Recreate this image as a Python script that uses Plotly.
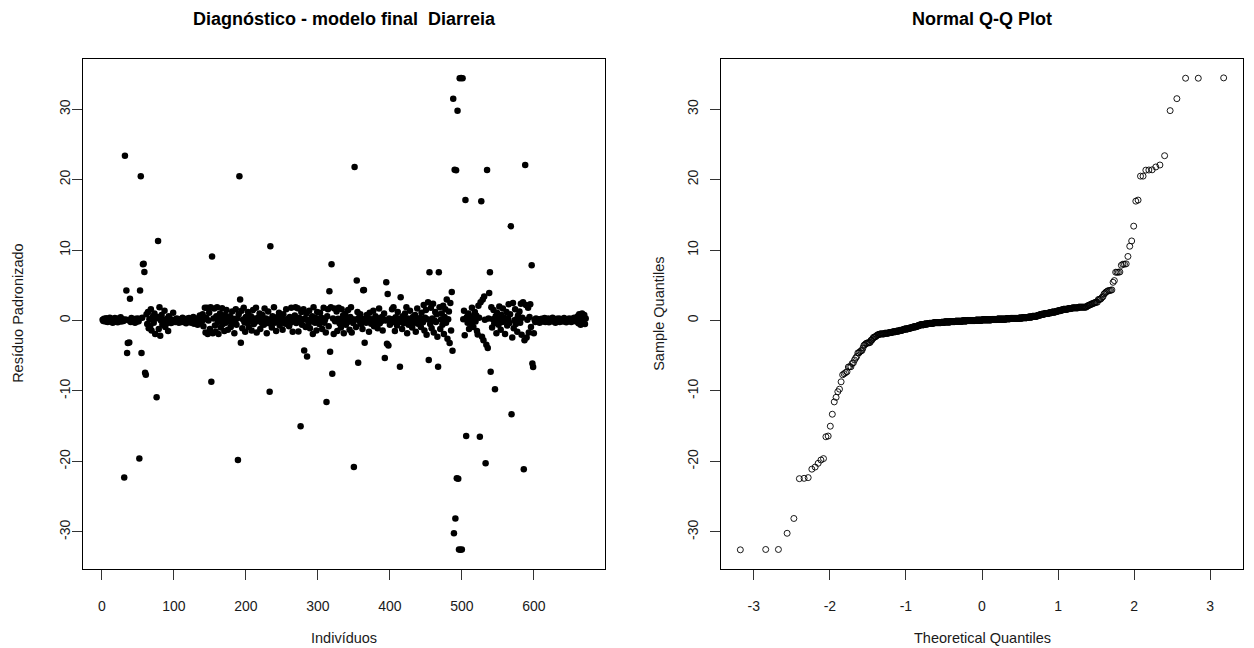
import numpy as np
import plotly.graph_objects as go
from statistics import NormalDist

# Standardized residuals by individual (index 1..672)
res_001_100 = [0.12, -0.08, 0.25, 0.05, -0.15, 0.31, 0.02, -0.21, 0.18, -0.05,
               0.40, -0.12, 0.08, 0.22, -0.30, 0.10, -0.02, 0.35, -0.18, 0.06,
               0.15, -0.25, 0.28, -0.10, 0.03, 0.45, -0.14, 0.11, 0.20, -0.06,
               -22.3, 23.4, 0.15, 4.25, -4.6, -3.2, 0.05, -3.1, 3.1, -0.2,
               0.35, -0.1, 0.2, -0.05, 0.1, -0.3, 0.25, 0.0, -0.15, 0.3,
               -0.1, -19.6, 4.25, 20.5, -4.6, 0.4, 8.0, 8.05, 6.9, -7.4,
               -7.7, 0.9, -0.5, 1.2, -1.1, 0.2, -0.8, 1.6, -1.4, 0.1,
               0.6, -0.3, 1.0, -1.9, 0.3, -10.9, 0.5, 11.3, -1.2, 1.9,
               -2.15, 0.0, 0.8, -0.6, 0.15, -0.2, 1.4, -0.9, 0.05, -0.4,
               0.3, -1.5, 0.6, -0.1, 0.2, -0.35, 0.1, -0.25, 1.1, -0.05]
res_101_200 = [0.1, -0.2, 0.05, 0.3, -0.1, 0.0, -0.3, 0.2, -0.05, 0.15,
               -0.2, 0.4, -0.1, 0.05, -0.25, 0.1, -0.4, 0.25, 0.0, -0.15,
               0.35, -0.05, 0.1, -0.3, 0.2, -0.1, 0.5, -0.45, 0.05, -0.2,
               0.3, 0.0, -0.6, 0.15, -0.1, 0.7, -0.35, 0.1, -0.05, 0.9,
               -0.8, 0.2, 1.8, -1.7, 0.4, 1.8, -1.9, 0.0, 1.1, -1.2,
               1.9, -8.7, 9.1, -1.8, 0.3, 1.7, -0.7, -1.6, 0.6, 1.9,
               -0.2, -1.9, 0.1, 1.0, -1.0, 0.35, 1.75, -0.5, 0.2, -1.5,
               0.8, -0.3, 1.5, 0.0, -1.3, 0.45, -0.15, 0.6, -0.9, 0.1,
               1.3, -0.4, 0.25, -1.8, 0.05, 1.6, -0.6, 0.3, -19.8, 0.9,
               20.5, 2.97, -3.15, 1.4, -1.1, 0.15, 1.8, -0.25, -1.6, 0.5]
res_201_300 = [-0.3, 0.1, 1.2, -0.9, 0.2, -0.1, 0.6, -1.4, 0.0, 1.5,
               -0.5, 0.3, -0.2, 1.8, -1.7, 0.1, 0.4, -0.05, 1.0, -1.2,
               0.25, -0.35, 0.8, 0.05, -0.6, 1.7, -0.15, 0.3, -1.8, 0.1,
               1.3, -0.4, -10.1, 10.55, 0.2, -1.0, 0.6, -0.1, 1.9, -0.3,
               0.15, -1.5, 0.45, 0.0, -0.2, 1.1, -0.7, 0.35, -0.05, 0.2,
               -1.3, 0.9, -0.25, 0.1, -0.45, 1.6, 0.05, -0.1, 0.3, -0.8,
               0.5, -0.3, 1.8, 0.0, -1.6, 0.25, -0.15, 0.7, 1.9, -0.35,
               0.1, 1.75, -1.55, 0.4, -0.2, -15.0, 1.2, -0.6, 0.15, 1.6,
               -4.25, 0.3, -0.9, 1.0, -5.1, 0.05, -0.4, 1.4, -1.1, 0.2,
               -0.1, 0.6, -1.9, 1.9, 0.0, -0.3, 0.35, -1.4, 1.2, -0.05]
res_301_400 = [0.2, -0.5, 1.1, -0.15, 0.4, -1.2, 0.05, 1.8, -0.3, 0.15,
               -1.7, -11.55, 0.6, 1.6, -0.8, 4.15, -4.43, 1.9, 8.0, -7.55,
               0.3, -1.9, 1.7, -0.1, 0.0, 1.3, -1.5, 0.25, 1.8, -0.4,
               0.1, -1.0, 1.6, -0.2, 0.7, -1.8, 0.05, 1.0, -0.6, 0.35,
               -0.25, 1.5, 0.0, -1.3, 0.5, 1.9, -1.7, 0.2, -0.35, -20.8,
               21.8, 0.15, -0.9, 5.67, 1.2, -6.0, 0.4, -0.1, 0.9, -0.5,
               0.25, -1.2, 4.3, 4.35, -3.15, 0.1, -0.3, 0.8, -0.05, 0.3,
               -1.6, 1.1, 0.0, -0.45, 0.2, -0.15, 1.4, -0.8, 0.05, 0.6,
               -0.2, 0.35, -1.1, 0.1, 1.7, -0.4, 0.15, -0.1, 0.5, -1.4,
               0.2, 1.0, -5.33, 0.0, 5.43, -3.3, 3.77, -3.53, 0.3, -0.6]
res_401_501 = [0.1, -0.3, 1.6, 0.2, 1.9, -0.1, -1.5, 0.45, 0.0, -0.7,
               1.2, 0.3, -0.2, -6.56, 3.3, 0.05, -1.2, 0.6, -0.4, 0.15,
               1.0, -0.05, 1.9, -1.8, 0.3, -0.6, 0.1, 1.4, -0.15, 0.2,
               -1.0, 0.5, -0.3, 0.0, 0.8, -1.6, 0.25, 1.7, -0.45, 0.1,
               -0.1, 0.35, -0.9, 1.1, 0.05, -0.25, 2.2, -1.4, 0.4, 1.5,
               -2.0, 0.2, 2.6, -5.6, 6.86, -0.5, 1.8, -1.1, 0.3, 2.4,
               -1.7, 0.0, 1.2, -0.2, 0.9, -2.3, -6.56, 6.86, 1.9, -1.2,
               0.15, 1.0, -0.6, 2.1, -1.9, 0.5, 1.6, -0.3, 3.0, -2.6,
               0.2, 1.3, -3.2, 2.5, -1.4, 4.06, -4.3, 31.5, -30.2, 21.4,
               -28.1, 21.35, -22.4, 29.8, -22.45, -32.5, 34.4, -32.55, 34.45, -32.5,
               34.4]
res_502_600 = [0.2, 1.4, -2.1, 17.1, -16.4, 0.5, -0.3, 1.0, -1.2, 0.1,
               0.6, -0.5, 1.8, 0.0, -0.9, 0.3, 1.2, -0.15, 0.7, -1.5,
               -1.97, 2.1, 0.4, -16.5, 2.6, 16.95, -2.3, 3.0, -2.8, 3.4,
               0.1, -20.27, -3.43, 21.37, -3.9, 0.3, 3.9, 6.86, -7.27, 1.9,
               -1.0, 0.2, 1.5, -0.4, -9.74, 0.6, -1.8, 1.1, 0.0, -0.6,
               2.0, 0.25, -1.3, 0.8, -0.2, 1.7, -0.1, 0.4, -1.9, 0.15,
               1.2, -0.7, 0.3, 2.3, -0.35, 0.9, 13.4, -13.3, -2.4, 2.5,
               -1.1, 0.05, 1.6, -0.5, 0.2, -1.6, 0.7, 0.0, 1.3, -0.3,
               2.4, -2.0, 0.4, 2.6, -21.1, -2.8, 22.08, 2.2, -2.4, 0.1,
               1.8, -1.7, 0.5, 2.3, -0.9, 7.85, -6.1, -6.6, -1.8]
res_601_672 = [0.1, -0.2, 0.3, 0.0, -0.1, 0.2, 0.05, -0.3, 0.15, -0.05,
               0.25, -0.15, 0.1, 0.0, 0.35, -0.2, 0.05, 0.2, -0.1, 0.3,
               -0.25, 0.1, 0.0, 0.15, -0.05, 0.4, -0.15, 0.2, 0.05, -0.3,
               0.1, 0.25, -0.1, 0.0, 0.3, -0.2, 0.15, 0.05, -0.05, 0.2,
               -0.15, 0.35, 0.0, 0.1, -0.25, 0.2, 0.05, -0.1, 0.3, 0.0,
               0.15, -0.2, 0.25, 0.1, -0.05, 0.4, 0.0, 0.2, -0.15, 0.3,
               0.6, -0.4, 0.9, 0.1, -0.6, 0.5, 1.0, -0.3, 0.2, 0.8,
               -0.5, 0.3]

x_ticks_left = [0, 100, 200, 300, 400, 500, 600]
y_ticks = [-30, -20, -10, 0, 10, 20, 30]
x_ticks_right = [-3, -2, -1, 0, 1, 2, 3]

title_left = "Diagnóstico - modelo final  Diarreia"
title_right = "Normal Q-Q Plot"
xlab_left = "Indivíduos"
ylab_left = "Resíduo Padronizado"
xlab_right = "Theoretical Quantiles"
ylab_right = "Sample Quantiles"

res = np.array(res_001_100 + res_101_200 + res_201_300 + res_301_400 +
               res_401_501 + res_502_600 + res_601_672)
n = len(res)
idx = np.arange(1, n + 1)

nd = NormalDist()
theo = np.array([nd.inv_cdf((i - 0.5) / n) for i in idx])
samp = np.sort(res)


def r_range(v):
    lo, hi = float(np.min(v)), float(np.max(v))
    e = 0.04 * (hi - lo)
    return [lo - e, hi + e]


def labels(ticks):
    return [str(t) for t in ticks]  # plain hyphen minus, as in R


W, H = 1254, 648
FONT = "Liberation Sans, Arial, sans-serif"
TXT = "#1a1a1a"

# plot-box pixel geometry
L1, R1 = 83.3, 605.0
L2, R2 = 721.0, 1243.0
TOP, BOT = 59.0, 568.7


def px(x):
    return x / W


def py(y):
    return 1 - y / H


fig = go.Figure()
fig.add_trace(go.Scatter(x=idx, y=res, mode="markers", xaxis="x", yaxis="y",
                         marker=dict(symbol="circle", size=6.5, color="black",
                                     line=dict(width=0)),
                         hoverinfo="x+y", showlegend=False))
fig.add_trace(go.Scatter(x=theo, y=samp, mode="markers", xaxis="x2", yaxis="y2",
                         marker=dict(symbol="circle-open", size=6, color="black",
                                     line=dict(width=0.9, color="black")),
                         hoverinfo="x+y", showlegend=False))

axis_common = dict(showline=True, mirror=True, linecolor="black", linewidth=1,
                   ticks="outside", ticklen=10, tickwidth=1, tickcolor="#333",
                   showgrid=False, zeroline=False,
                   tickfont=dict(family=FONT, size=14, color=TXT))

fig.update_layout(
    width=W, height=H,
    margin=dict(l=0, r=0, t=0, b=0),
    paper_bgcolor="white", plot_bgcolor="white",
    xaxis=dict(domain=[px(L1), px(R1)], anchor="y", range=r_range(idx),
               tickvals=x_ticks_left, ticktext=labels(x_ticks_left),
               ticklabelstandoff=14, **axis_common),
    yaxis=dict(domain=[py(BOT), py(TOP)], anchor="x", range=r_range(res),
               tickvals=y_ticks, ticktext=labels(y_ticks), tickangle=-90,
               ticklabelstandoff=-3, **axis_common),
    xaxis2=dict(domain=[px(L2), px(R2)], anchor="y2", range=r_range(theo),
                tickvals=x_ticks_right, ticktext=labels(x_ticks_right),
                ticklabelstandoff=14, **axis_common),
    yaxis2=dict(domain=[py(BOT), py(TOP)], anchor="x2", range=r_range(samp),
                tickvals=y_ticks, ticktext=labels(y_ticks), tickangle=-90,
                ticklabelstandoff=6, **axis_common),
)

ann = []
ann.append(dict(text="<b>" + title_left + "</b>", x=px((L1 + R1) / 2), y=py(19)))
ann.append(dict(text="<b>" + title_right + "</b>", x=px((L2 + R2) / 2), y=py(19)))
for a in ann:
    a.update(xref="paper", yref="paper", showarrow=False, xanchor="center",
             yanchor="middle", font=dict(family=FONT, size=18, color="black"))
labs = [
    dict(text=xlab_left, x=px((L1 + R1) / 2), y=py(638), textangle=0),
    dict(text=xlab_right, x=px((L2 + R2) / 2), y=py(638), textangle=0),
    dict(text=ylab_left, x=px(18), y=py((TOP + BOT) / 2), textangle=-90),
    dict(text=ylab_right, x=px(659), y=py((TOP + BOT) / 2), textangle=-90),
]
for a in labs:
    a.update(xref="paper", yref="paper", showarrow=False, xanchor="center",
             yanchor="middle", font=dict(family=FONT, size=14.5, color=TXT))
fig.update_layout(annotations=ann + labs)

fig.write_html("out.html")
